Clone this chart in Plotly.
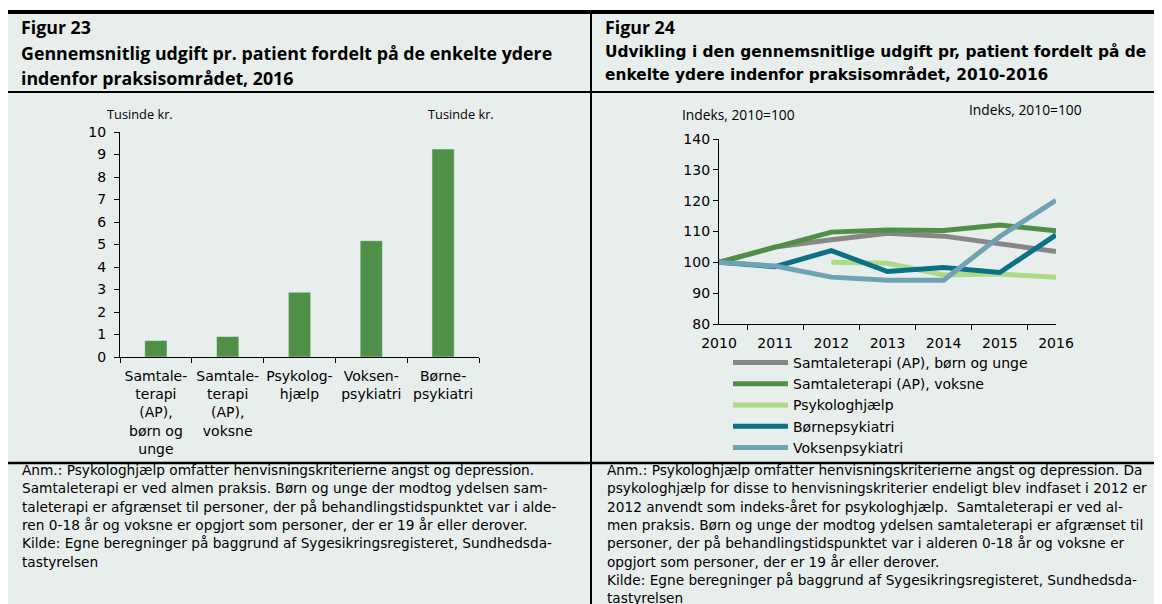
import plotly.graph_objects as go

W, H = 1162, 604

# ---- data: figur 23 (tusinde kr.)
bar_labels = ["Samtale-<br>terapi<br>(AP),<br>børn og<br>unge",
              "Samtale-<br>terapi<br>(AP),<br>voksne",
              "Psykolog-<br>hjælp",
              "Voksen-<br>psykiatri",
              "Børne-<br>psykiatri"]
bar_values = [0.73, 0.91, 2.88, 5.17, 9.24]

# ---- data: figur 24 (indeks, 2010=100)
years = ["2010", "2011", "2012", "2013", "2014", "2015", "2016"]
samtale_boern = [100, 105.0, 107.3, 109.4, 108.5, 106.1, 103.5]
samtale_voksne = [100, 105.0, 109.8, 110.5, 110.3, 112.1, 110.2]
psykologhjaelp = [None, None, 100, 99.7, 95.9, 96.2, 95.2]
boernepsyk = [100, 98.6, 103.8, 97.0, 98.3, 96.7, 108.9]
voksenpsyk = [100, 98.8, 95.2, 94.2, 94.2, 108.4, 120.1]

series = [
    ("Samtaleterapi (AP), børn og unge", samtale_boern, "#878787"),
    ("Samtaleterapi (AP), voksne", samtale_voksne, "#4f8f48"),
    ("Psykologhjælp", psykologhjaelp, "#acda88"),
    ("Børnepsykiatri", boernepsyk, "#0b7187"),
    ("Voksenpsykiatri", voksenpsyk, "#6fa3b3"),
]

BG = "#e8eeec"
SANS = "DejaVu Sans"
CALIBRI = "Open Sans"
OFF = 8  # page body margin


def px_x(v):
    return (v - OFF) / W


def px_y(v):
    return 1 - (v - OFF) / H


fig = go.Figure()

fig.add_trace(go.Bar(x=bar_labels, y=bar_values, marker_color="#4f8f48",
                     width=0.31, showlegend=False, xaxis="x", yaxis="y"))

for name, vals, col in series:
    fig.add_trace(go.Scatter(x=years, y=vals, name=name, mode="lines",
                             line=dict(color=col, width=5), connectgaps=False,
                             xaxis="x3", yaxis="y3"))

axis_common = dict(showline=True, linecolor="black", linewidth=1.3, ticks="outside",
                   ticklen=5, tickcolor="black", showgrid=False, zeroline=False,
                   tickfont=dict(family=SANS, size=14, color="black"))

# panel backgrounds and rules
shapes = [
    dict(type="rect", xref="paper", yref="paper", x0=0, x1=1,
         y0=0, y1=px_y(12), fillcolor=BG, line_width=0, layer="below"),
    dict(type="line", xref="paper", yref="paper", x0=0, x1=px_x(1160),
         y0=px_y(12), y1=px_y(12), line=dict(color="black", width=4)),
    dict(type="line", xref="paper", yref="paper", x0=0, x1=px_x(1160),
         y0=px_y(92), y1=px_y(92), line=dict(color="black", width=2)),
    dict(type="line", xref="paper", yref="paper", x0=0, x1=px_x(1160),
         y0=px_y(463), y1=px_y(463), line=dict(color="black", width=2.5)),
    dict(type="line", xref="paper", yref="paper", x0=px_x(591), x1=px_x(591),
         y0=px_y(14), y1=0, line=dict(color="black", width=2)),
]

ann = []


def text(x, y, s, font, size, bold=False, anchor="left"):
    ann.append(dict(xref="paper", yref="paper", x=px_x(x), y=px_y(y), text=s,
                    showarrow=False, xanchor=anchor, yanchor="middle", align="left",
                    font=dict(family=font, size=size, color="black",
                              weight="bold" if bold else "normal")))


text(19, 27, "Figur 23", CALIBRI, 17.8, True)
text(19, 53, "Gennemsnitlig udgift pr. patient fordelt på de enkelte ydere", CALIBRI, 17.8, True)
text(19, 78, "indenfor praksisområdet, 2016", CALIBRI, 17.8, True)

text(603, 27, "Figur 24", CALIBRI, 17.8, True)
text(603, 52, "Udvikling i den gennemsnitlige udgift pr, patient fordelt på de", SANS, 15.4, True)
text(603, 75, "enkelte ydere indenfor praksisområdet, 2010-2016", SANS, 15.4, True)

text(140, 114, "Tusinde kr.", CALIBRI, 12.8, anchor="center")
text(461, 114, "Tusinde kr.", CALIBRI, 12.8, anchor="center")
text(738, 114, "Indeks, 2010=100", CALIBRI, 13.8, anchor="center")
text(1025, 109, "Indeks, 2010=100", CALIBRI, 13.8, anchor="center")

note_left = [
    "Anm.: Psykologhjælp omfatter henvisningskriterierne angst og depression.",
    "Samtaleterapi er ved almen praksis. Børn og unge der modtog ydelsen sam-",
    "taleterapi er afgrænset til personer, der på behandlingstidspunktet var i alde-",
    "ren 0-18 år og voksne er opgjort som personer, der er 19 år eller derover.",
    "Kilde: Egne beregninger på baggrund af Sygesikringsregisteret, Sundhedsda-",
    "tastyrelsen",
]
note_right = [
    "Anm.: Psykologhjælp omfatter henvisningskriterierne angst og depression. Da",
    "psykologhjælp for disse to henvisningskriterier endeligt blev indfaset i 2012 er",
    "2012 anvendt som indeks-året for psykologhjælp.  Samtaleterapi er ved al-",
    "men praksis. Børn og unge der modtog ydelsen samtaleterapi er afgrænset til",
    "personer, der på behandlingstidspunktet var i alderen 0-18 år og voksne er",
    "opgjort som personer, der er 19 år eller derover.",
    "Kilde: Egne beregninger på baggrund af Sygesikringsregisteret, Sundhedsda-",
    "tastyrelsen",
]
for i, line in enumerate(note_left):
    text(20, 470 + i * 18.3, line, SANS, 13.7)
for i, line in enumerate(note_right):
    text(605, 470 + i * 18.3, line, SANS, 13.7)

fig.update_layout(
    width=W, height=H, margin=dict(l=0, r=0, t=0, b=0, autoexpand=False),
    paper_bgcolor="white", plot_bgcolor="rgba(0,0,0,0)",
    shapes=shapes, annotations=ann,
    xaxis=dict(domain=[px_x(120), px_x(479)], anchor="y", type="category",
               tickson="boundaries", tickangle=0, ticklabelstandoff=6, **axis_common),
    yaxis=dict(domain=[px_y(357), px_y(132)], anchor="x", range=[0, 10], dtick=1,
               ticklabelstandoff=5, **axis_common),
    yaxis2=dict(overlaying="y", anchor="x", side="right", range=[0, 10], dtick=1,
                ticklabelstandoff=2, **axis_common),
    xaxis3=dict(domain=[px_x(719), px_x(1056)], anchor="y3", type="category",
                tickson="boundaries", tickangle=0, ticklabelstandoff=6, **axis_common),
    yaxis3=dict(domain=[px_y(324), px_y(139)], anchor="x3", range=[80, 140], dtick=10,
                **axis_common),
    yaxis4=dict(overlaying="y3", anchor="x3", side="right", range=[80, 140], dtick=10,
                **axis_common),
    legend=dict(x=px_x(728), y=px_y(347), xanchor="left", yanchor="top",
                bgcolor="rgba(0,0,0,0)", itemwidth=55, tracegroupgap=0,
                font=dict(family=SANS, size=14, color="black")),
)

fig.write_html("out.html")
